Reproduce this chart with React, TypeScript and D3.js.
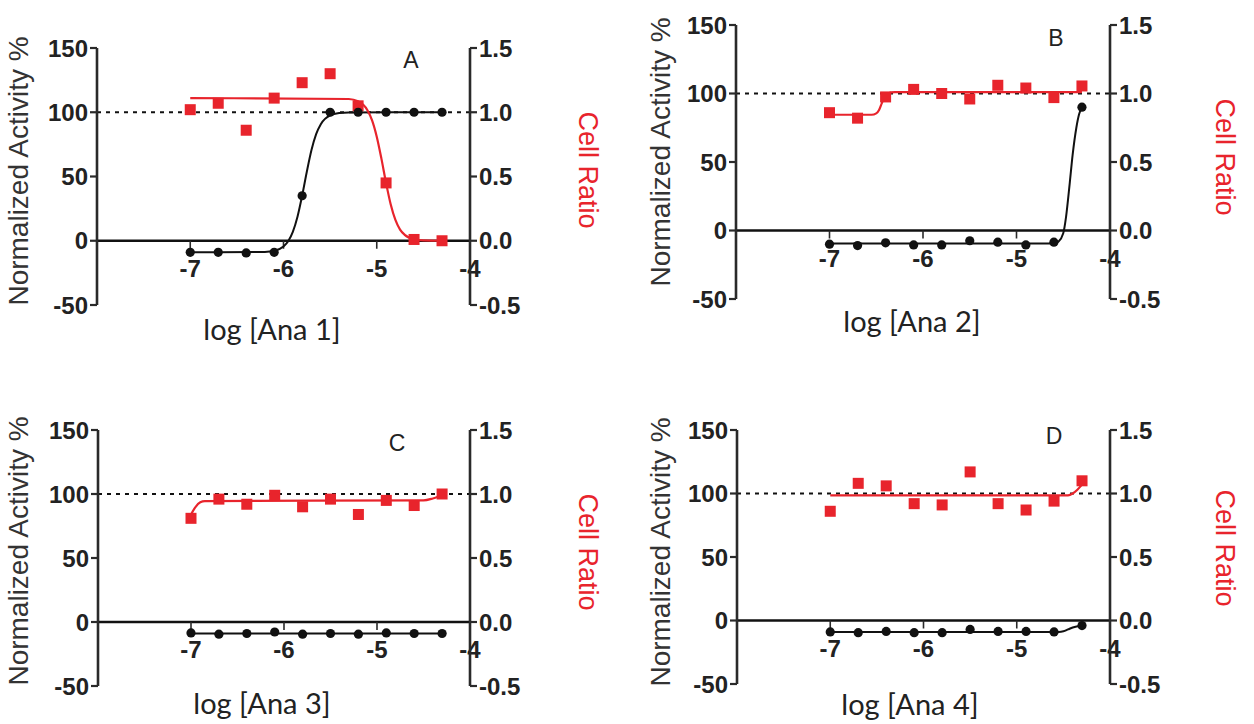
import React from "react";
import * as d3 from "d3";

// ---------- data ----------
const doses = [-7, -6.7, -6.4, -6.1, -5.8, -5.5, -5.2, -4.9, -4.6, -4.3];
const xTicks = [-7, -6, -5, -4];
const leftTicks = [150, 100, 50, 0, -50];
const rightTicks = [1.5, 1.0, 0.5, 0.0, -0.5];
const panelLetters = ["A", "B", "C", "D"];
const xTitles = ["log [Ana 1]", "log [Ana 2]", "log [Ana 3]", "log [Ana 4]"];

// Normalized activity (%) – black circles
const activityA = [-9, -9, -9.5, -9, 35, 100, 100, 100, 100, 100];
const activityB = [-10, -11, -9, -10.5, -10.5, -7.5, -8.5, -10.5, -8.5, 90];
const activityC = [-8.5, -9.5, -9, -7.8, -9.5, -9, -9.5, -8.5, -9, -9];
const activityD = [-9, -9.6, -8.6, -9.6, -9.6, -7, -8.6, -8.6, -9, -4];

// Cell ratio – red squares
const cellA = [1.02, 1.07, 0.86, 1.11, 1.23, 1.3, 1.05, 0.45, 0.01, 0.0];
const cellB = [0.86, 0.82, 0.975, 1.03, 1.0, 0.96, 1.06, 1.04, 0.97, 1.055];
const cellC = [0.81, 0.96, 0.92, 0.99, 0.9, 0.96, 0.84, 0.95, 0.91, 1.0];
const cellD = [0.86, 1.08, 1.06, 0.92, 0.91, 1.17, 0.92, 0.87, 0.94, 1.1];

// fitted curves as [log dose, value]
const activityFitA: [number, number][] = [
  [-7, -9], [-6.2, -8.7], [-6.1, -7.8], [-6.0, -4.5], [-5.95, -0.4], [-5.9, 6.9],
  [-5.85, 18.7], [-5.8, 35.1], [-5.75, 53.7], [-5.7, 70.6], [-5.65, 83], [-5.6, 90.7],
  [-5.5, 97.5], [-5.4, 99.4], [-5.3, 99.9], [-4.3, 100],
];
const activityFitB: [number, number][] = [
  [-7, -9.5], [-4.6, -9.5], [-4.55, -8], [-4.5, -2], [-4.47, 10], [-4.43, 35],
  [-4.4, 55], [-4.36, 75], [-4.33, 85], [-4.3, 90],
];
const activityFitC: [number, number][] = [[-7, -9], [-4.3, -9]];
const activityFitD: [number, number][] = [
  [-7, -9], [-4.55, -9], [-4.5, -8.5], [-4.45, -7], [-4.4, -5.5], [-4.3, -4],
];
const cellFitA: [number, number][] = [
  [-7, 1.11], [-5.3, 1.103], [-5.2, 1.085], [-5.1, 1.016], [-5.05, 0.937], [-5.0, 0.81],
  [-4.95, 0.639], [-4.9, 0.449], [-4.85, 0.282], [-4.8, 0.162], [-4.75, 0.087],
  [-4.7, 0.046], [-4.6, 0.012], [-4.5, 0.003], [-4.3, 0],
];
const cellFitB: [number, number][] = [
  [-7, 0.845], [-6.55, 0.845], [-6.5, 0.855], [-6.47, 0.88], [-6.44, 0.93],
  [-6.41, 0.975], [-6.38, 1.0], [-6.3, 1.01], [-4.3, 1.01],
];
const cellFitC: [number, number][] = [
  [-7, 0.84], [-6.95, 0.9], [-6.9, 0.935], [-6.85, 0.945], [-4.5, 0.95], [-4.4, 0.965], [-4.3, 0.99],
];
const cellFitD: [number, number][] = [
  [-7, 0.985], [-4.45, 0.985], [-4.4, 1.0], [-4.35, 1.03], [-4.3, 1.07],
];

const activitySeries = [activityA, activityB, activityC, activityD];
const cellSeries = [cellA, cellB, cellC, cellD];
const activityFits = [activityFitA, activityFitB, activityFitC, activityFitD];
const cellFits = [cellFitA, cellFitB, cellFitC, cellFitD];

// ---------- layout ----------
const layouts = [
  { left: 97, right: 470, top: 48, bottom: 305, yTitleX: 18, yTitleY: 171, rTitleX: 588, rTitleY: 170, xTitleX: 272, xTitleY: 340, letterX: 411, letterY: 68 },
  { left: 736, right: 1110, top: 25, bottom: 299, yTitleX: 660, yTitleY: 152, rTitleX: 1225, rTitleY: 157, xTitleX: 912, xTitleY: 332, letterX: 1056, letterY: 46 },
  { left: 98, right: 470, top: 430, bottom: 686, yTitleX: 18, yTitleY: 551, rTitleX: 588, rTitleY: 552, xTitleX: 262, xTitleY: 714, letterX: 397, letterY: 451 },
  { left: 737, right: 1110, top: 430, bottom: 684, yTitleX: 660, yTitleY: 552, rTitleX: 1225, rTitleY: 548, xTitleX: 910, xTitleY: 715, letterX: 1054, letterY: 444 },
];

const RED = "#e8242c";
const BLACK = "#111";
const AXIS = "#2a2a2a";
const SANS = "'Liberation Sans', Arial, sans-serif";

function fmtRight(v: number) {
  return v.toFixed(1);
}

function Panel({ i }: { i: number }) {
  const L = layouts[i];
  const x = d3.scaleLinear().domain([-8, -4]).range([L.left, L.right]);
  const yL = d3.scaleLinear().domain([-50, 150]).range([L.bottom, L.top]);
  const yR = d3.scaleLinear().domain([-0.5, 1.5]).range([L.bottom, L.top]);
  const lineL = d3.line<[number, number]>().x((d) => x(d[0])).y((d) => yL(d[1])).curve(d3.curveMonotoneX);
  const lineR = d3.line<[number, number]>().x((d) => x(d[0])).y((d) => yR(d[1])).curve(d3.curveMonotoneX);
  const y0 = yL(0);
  const act = activitySeries[i];
  const cell = cellSeries[i];
  const sq = 11;
  return (
    <g>
      {/* dotted reference line at 100 % */}
      <line x1={x(-8)} x2={x(-4)} y1={yL(100)} y2={yL(100)} stroke={BLACK} strokeWidth={2} strokeDasharray="4,5" />
      {/* zero line / x axis */}
      <line x1={x(-8)} x2={x(-4)} y1={y0} y2={y0} stroke={BLACK} strokeWidth={2.6} />
      {xTicks.map((t) => (
        <g key={"xt" + t}>
          <line x1={x(t)} x2={x(t)} y1={y0} y2={y0 + 8} stroke={AXIS} strokeWidth={1.6} />
          <text x={x(t)} y={y0 + 36} textAnchor="middle" fontFamily={SANS} fontWeight="bold" fontSize={24} fill="#222">
            {String(t)}
          </text>
        </g>
      ))}
      {/* left axis */}
      <line x1={L.left} x2={L.left} y1={yL(150)} y2={yL(-50)} stroke={AXIS} strokeWidth={2.6} />
      {leftTicks.map((t) => (
        <g key={"lt" + t}>
          <line x1={L.left - 7} x2={L.left} y1={yL(t)} y2={yL(t)} stroke={AXIS} strokeWidth={2.2} />
          <text x={L.left - 9} y={yL(t)} dy="0.36em" textAnchor="end" fontFamily={SANS} fontWeight="bold" fontSize={24} fill="#222">
            {String(t)}
          </text>
        </g>
      ))}
      {/* right axis */}
      <line x1={L.right} x2={L.right} y1={yR(1.5)} y2={yR(-0.5)} stroke={AXIS} strokeWidth={2.6} />
      {rightTicks.map((t) => (
        <g key={"rt" + t}>
          <line x1={L.right} x2={L.right + 7} y1={yR(t)} y2={yR(t)} stroke={AXIS} strokeWidth={2.2} />
          <text x={L.right + 9} y={yR(t)} dy="0.36em" textAnchor="start" fontFamily={SANS} fontWeight="bold" fontSize={24} fill="#222">
            {fmtRight(t)}
          </text>
        </g>
      ))}
      {/* fitted curves */}
      <path d={lineL(activityFits[i]) || ""} fill="none" stroke={BLACK} strokeWidth={2} />
      <path d={lineR(cellFits[i]) || ""} fill="none" stroke={RED} strokeWidth={2.2} />
      {/* markers */}
      {doses.map((d, k) => (
        <rect key={"c" + k} x={x(d) - sq / 2} y={yR(cell[k]) - sq / 2} width={sq} height={sq} fill={RED} />
      ))}
      {doses.map((d, k) => (
        <circle key={"a" + k} cx={x(d)} cy={yL(act[k])} r={4.6} fill={BLACK} />
      ))}
      {/* titles */}
      <text
        transform={`translate(${L.yTitleX},${L.yTitleY}) rotate(-90)`}
        textAnchor="middle"
        dominantBaseline="central"
        fontFamily={SANS}
        fontSize={28}
        fill="#333"
      >
        Normalized Activity %
      </text>
      <text
        transform={`translate(${L.rTitleX},${L.rTitleY}) rotate(90)`}
        textAnchor="middle"
        dominantBaseline="central"
        fontFamily={SANS}
        fontSize={27}
        fill={RED}
      >
        Cell Ratio
      </text>
      <text x={L.xTitleX} y={L.xTitleY} textAnchor="middle" fontFamily="Lato, 'Open Sans', sans-serif" fontSize={29} fill="#222">
        {xTitles[i]}
      </text>
      <text x={L.letterX} y={L.letterY} textAnchor="middle" fontFamily={SANS} fontSize={23} fill="#222">
        {panelLetters[i]}
      </text>
    </g>
  );
}

export default function App() {
  return (
    <svg width={1254} height={724} style={{ position: "absolute", left: 0, top: 0, background: "#fff" }}>
      <rect width={1254} height={724} fill="#fff" />
      {layouts.map((_, i) => (
        <Panel key={i} i={i} />
      ))}
    </svg>
  );
}
